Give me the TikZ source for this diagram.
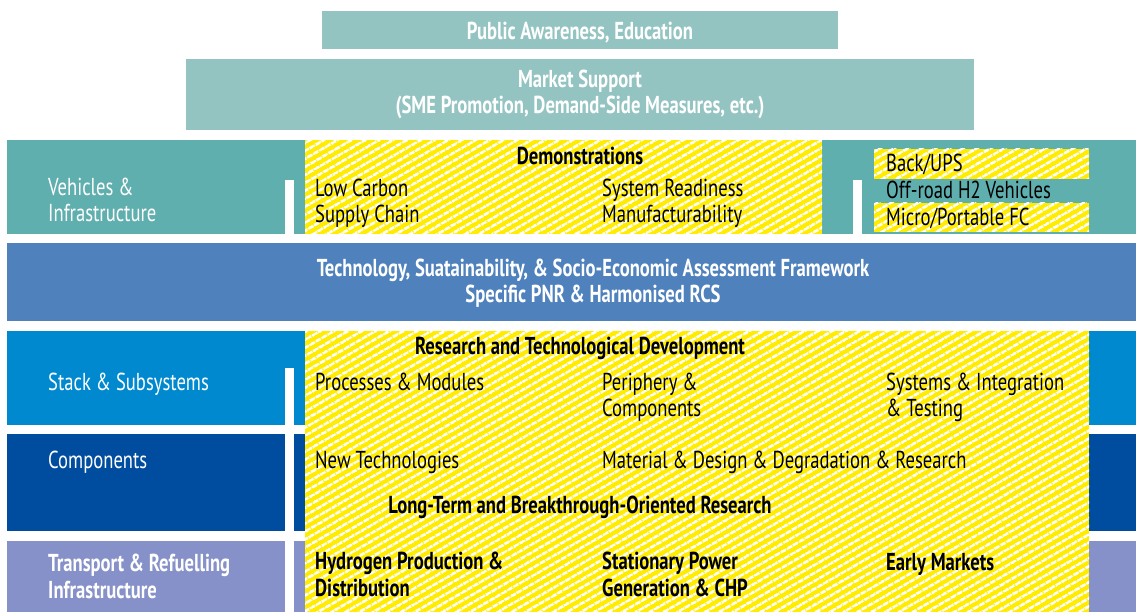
\documentclass[tikz,border=0pt]{standalone}
\usepackage{fontspec}
\setmainfont[FakeStretch=0.76]{PT Sans}
\usetikzlibrary{positioning,patterns.meta}

\definecolor{topteal}{HTML}{93C4C2}
\definecolor{vehteal}{HTML}{60AFAF}
\definecolor{bandblue}{HTML}{4F81BD}
\definecolor{stackblue}{HTML}{0089CF}
\definecolor{compblue}{HTML}{004D9F}
\definecolor{transblue}{HTML}{8591C8}
\definecolor{hyellow}{HTML}{FFEC00}

\tikzset{
  block/.style={inner sep=0, outer sep=0, anchor=north west, draw=none},
  hatched/.style={block, fill=hyellow,
    postaction={pattern={Lines[angle=30,distance=6.5pt,line width=2.4pt]}, pattern color=white}},
  gap/.style={block, fill=white},
  txt/.style={anchor=base west, inner sep=0, align=left,
    font=\fontsize{24.5}{26.5}\selectfont},
  btxt/.style={txt, font=\fontsize{24.5}{26.5}\selectfont\bfseries},
  head/.style={txt, anchor=base, align=center, font=\fontsize{24.5}{26.5}\selectfont\bfseries},
}

\begin{document}
\begin{tikzpicture}[x=1pt, y=-1pt]
  \useasboundingbox (0,0) rectangle (1136,612);
  %.
  \node[block, fill=topteal, minimum width=516, minimum height=38] (pub) at (322,11) {};
  \node[block, fill=topteal, minimum width=788, minimum height=71] (mkt) at (186,59) {};
  \node[block, fill=vehteal, minimum width=1129, minimum height=94] (veh) at (7,140) {};
  \node[hatched, minimum width=517, minimum height=94] (demo) at (305,140) {};
  \node[hatched, minimum width=215, minimum height=30] (backup) at (874,149) {};
  \node[hatched, minimum width=215, minimum height=29] (micro) at (874,203) {};
  \node[gap, minimum width=9, minimum height=54] (vbarA) at (285,180) {};
  \node[gap, minimum width=9, minimum height=54] (vbarB) at (853,180) {};
  \node[block, fill=bandblue, minimum width=1129, minimum height=78] (band) at (7,243) {};
  \node[block, fill=stackblue, minimum width=1129, minimum height=94] (stack) at (7,331) {};
  \node[block, fill=compblue, minimum width=1129, minimum height=97] (comp) at (7,434) {};
  \node[block, fill=transblue, minimum width=1129, minimum height=71] (trans) at (7,541) {};
  \node[hatched, minimum width=784, minimum height=281] (rtd) at (305,331) {};
  \node[gap, minimum width=9, minimum height=244] (vbarC) at (285,368) {};
  %. texts (multi-line ones sit on the baseline of their last line)
  \node[head, text=white] (pubT) at (580,40) {Public Awareness, Education};
  \node[head, text=white] (mktT) at (580,114) {Market Support\\(SME Promotion, Demand-Side Measures, etc.)};
  \node[txt, text=white] (vehT) at (48,222) {Vehicles \&\\Infrastructure};
  \node[head] (demoT) at (580,165) {Demonstrations};
  \node[txt] (lowc) at (315,223) {Low Carbon\\Supply Chain};
  \node[txt] (sysr) at (602,223) {System Readiness\\Manufacturability};
  \node[txt] (bups) at (886,172) {Back/UPS};
  \node[txt] (offr) at (886,199) {Off-road H2 Vehicles};
  \node[txt] (mpfc) at (886,226) {Micro/Portable FC};
  \node[head, text=white] (bandT) at (593,303) {Technology, Suatainability, \& Socio-Economic Assessment Framework\\Specific PNR \& Harmonised RCS};
  \node[txt, text=white] (stackT) at (48,391) {Stack \& Subsystems};
  \node[head] (rtdT) at (580,355) {Research and Technological Development};
  \node[txt] (procm) at (315,391) {Processes \& Modules};
  \node[txt] (peric) at (602,417) {Periphery \&\\Components};
  \node[txt] (sysit) at (886,417) {Systems \& Integration\\\& Testing};
  \node[txt, text=white] (compT) at (48,468) {Components};
  \node[txt] (newt) at (315,468) {New Technologies};
  \node[txt] (matd) at (602,468) {Material \& Design \& Degradation \& Research};
  \node[head] (ltbr) at (580,513) {Long-Term and Breakthrough-Oriented Research};
  \node[btxt, text=white] (transT) at (48,598) {Transport \& Refuelling\\Infrastructure};
  \node[btxt] (hprod) at (315,596) {Hydrogen Production \&\\Distribution};
  \node[btxt] (stpow) at (602,596) {Stationary Power\\Generation \& CHP};
  \node[btxt] (early) at (886,570) {Early Markets};
  %.
\end{tikzpicture}
\end{document}
